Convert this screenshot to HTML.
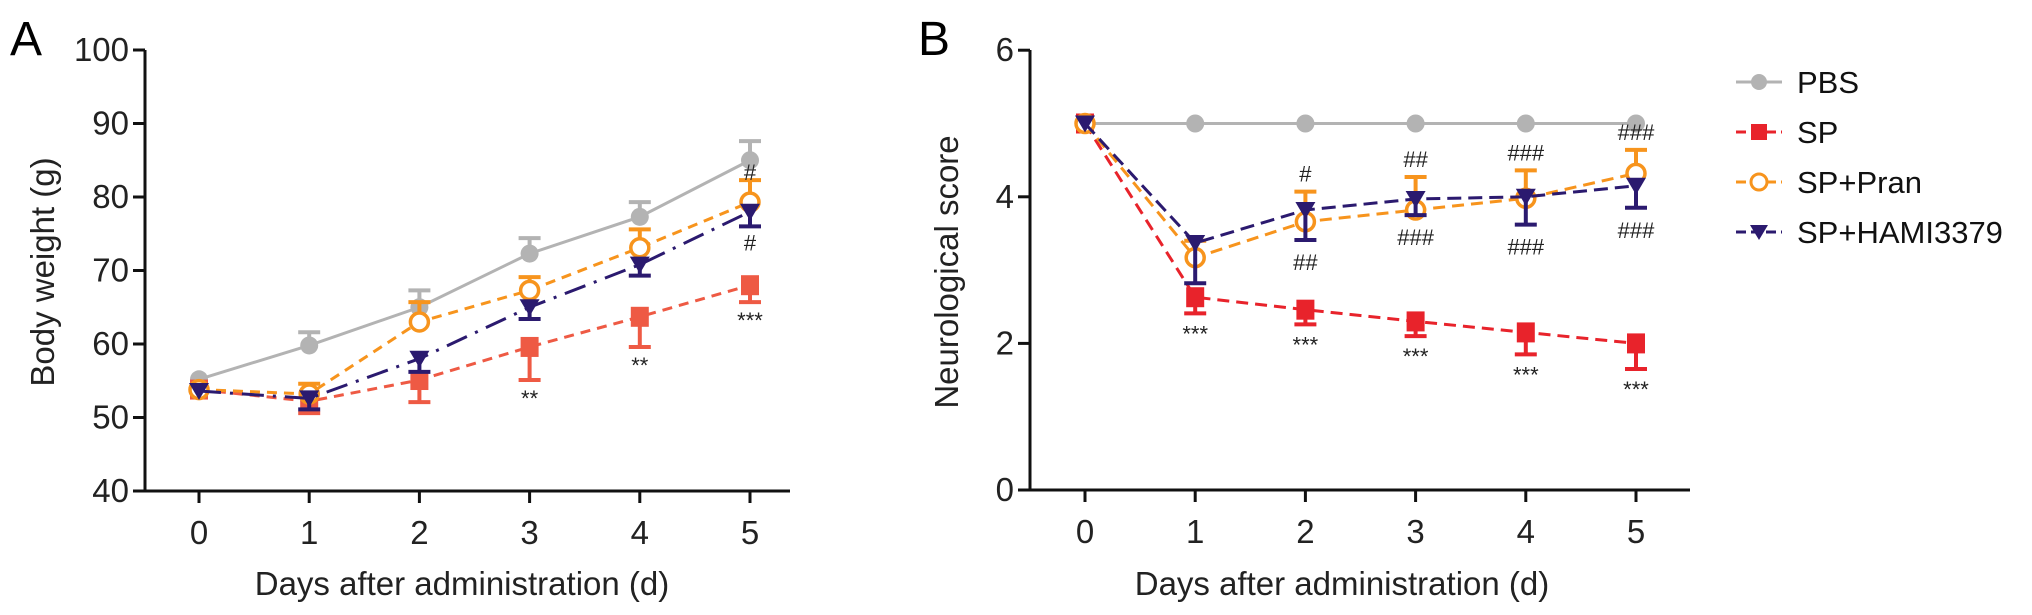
<!DOCTYPE html>
<html><head><meta charset="utf-8"><style>
html,body{margin:0;padding:0;background:#fff}
svg{display:block;font-family:"Liberation Sans",Arial,sans-serif}
</style></head><body>
<svg id="fig" width="2032" height="615" viewBox="0 0 2032 615">
<text x="10" y="55" font-size="48">A</text>
<text x="918" y="55" font-size="48">B</text>
<g id="ga"></g>
<g id="gb"></g>
<g id="legend"></g>
</svg>
<script>
const days = [0,1,2,3,4,5];
// Chart A: body weight
const aTicks = [40,50,60,70,80,90,100];
const aPBS = [55.2,59.8,65,72.3,77.3,85];
const aPBSerr = [0,1.8,2.3,2.1,2.0,2.6];
const aSP = [53.8,52.2,55.1,59.6,63.7,68];
const aSPerr = [0,1.6,3.0,4.5,4.1,2.3];
const aPran = [53.8,53.2,63,67.3,73.1,79.3];
const aPranErr = [0,1.4,2.7,1.8,2.5,3.0];
const aHami = [53.6,52.6,58,65,70.8,78];
const aHamiErr = [0,1.5,1.8,1.6,1.5,2.0];
// Chart B: neurological score
const bTicks = [0,2,4,6];
const bPBS = [5,5,5,5,5,5];
const bSP = [5,2.63,2.46,2.3,2.15,2.0];
const bSPerr = [0,0.22,0.2,0.2,0.3,0.35];
const bPran = [5,3.17,3.66,3.82,3.98,4.32];
const bPranErr = [0,0.23,0.41,0.45,0.38,0.32];
const bHami = [5,3.37,3.82,3.97,4.0,4.15];
const bHamiErr = [0,0.55,0.41,0.22,0.38,0.3];
const aStars = ["","","","**","**","***"];
const aHashUp = ["","","","","","#"];
const aHashDn = ["","","","","","#"];
const bStars = ["","***","***","***","***","***"];
const bHashUp = ["","","#","##","###","###"];
const bHashDn = ["","","##","###","###","###"];

const NS="http://www.w3.org/2000/svg";
function mk(parent,tag,attrs,name,txt){
  const e=document.createElementNS(NS,tag);
  for(const k in attrs)e.setAttribute(k,attrs[k]);
  
  
  if(txt!==undefined)e.textContent=txt;
  parent.appendChild(e);return e;
}
const C={pbs:"#b3b3b3",spA:"#ee5a44",spB:"#e8232b",pran:"#f7941d",hami:"#2b1a6f"};

function axes(g,o){
  mk(g,"line",{x1:o.ax,y1:o.yTop,x2:o.ax,y2:o.yBot,stroke:"#111","stroke-width":3},"y-axis-line");
  mk(g,"line",{x1:o.ax-1.5,y1:o.yBot,x2:o.xEnd,y2:o.yBot,stroke:"#111","stroke-width":3},"x-axis-line");
  o.ticks.forEach(t=>{const y=o.y(t);
    mk(g,"line",{x1:o.ax-12,y1:y,x2:o.ax,y2:y,stroke:"#111","stroke-width":3},"y-tick");
    mk(g,"text",{x:o.ax-16,y:y+11,"font-size":33,"text-anchor":"end",fill:"#222"},"y-tick-label",String(t));
  });
  days.forEach(d=>{const x=o.x(d);
    mk(g,"line",{x1:x,y1:o.yBot,x2:x,y2:o.yBot+12,stroke:"#111","stroke-width":3},"x-tick");
    mk(g,"text",{x:x,y:o.yBot+53,"font-size":33,"text-anchor":"middle",fill:"#222"},"x-tick-label",String(d));
  });
  mk(g,"text",{x:o.titleX,y:595,"font-size":33,"text-anchor":"middle",fill:"#222"},"x-axis-title","Days after administration (d)");
  mk(g,"text",{x:0,y:0,"font-size":33,"text-anchor":"middle",fill:"#222",transform:`translate(${o.ytx},${o.yty}) rotate(-90)`},"y-axis-title",o.ytitle);
}
function series(g,x,y,vals,err,dir,col,dash,marker,name){
  const pts=vals.map((v,i)=>x(days[i])+","+y(v)).join(" ");
  const a={points:pts,fill:"none",stroke:col,"stroke-width":3};
  if(dash)a["stroke-dasharray"]=dash;
  mk(g,"polyline",a,name+"-line");
  vals.forEach((v,i)=>{
    const cx=x(days[i]),cy=y(v);
    if(err && err[i]>0){
      const ey=y(v+dir*err[i]);
      mk(g,"line",{x1:cx,y1:cy,x2:cx,y2:ey,stroke:col,"stroke-width":4},name+"-error-bar");
      mk(g,"line",{x1:cx-11,y1:ey,x2:cx+11,y2:ey,stroke:col,"stroke-width":4},name+"-error-cap");
    }
    if(marker==="circle")mk(g,"circle",{cx,cy,r:9,fill:col},name+"-point");
    else if(marker==="square")mk(g,"rect",{x:cx-9,y:cy-10,width:18,height:20,fill:col},name+"-point");
    else if(marker==="open")mk(g,"circle",{cx,cy,r:9,fill:"#fff",stroke:col,"stroke-width":3.5},name+"-point");
    else mk(g,"polygon",{points:`${cx-10},${cy-8} ${cx+10},${cy-8} ${cx},${cy+9}`,fill:col},name+"-point");
  });
}
function ann(g,x,y,labels,vals,off,name){
  labels.forEach((s,i)=>{if(!s)return;
    mk(g,"text",{x:x(days[i]),y:y(vals[i])+off,"font-size":22,"text-anchor":"middle",fill:"#222"},name,s);});
}

// Chart A
{
const g=document.getElementById('ga');
const x=d=>199+d*110.2, y=v=>491-(v-40)*7.35;
axes(g,{ax:145,yTop:50,yBot:491,xEnd:790,ticks:aTicks,x,y,titleX:462,ytx:54,yty:272,ytitle:"Body weight (g)"});
series(g,x,y,aPBS,aPBSerr,1,C.pbs,null,"circle","pbs");
series(g,x,y,aSP,aSPerr,-1,C.spA,"10,7","square","sp");
series(g,x,y,aPran,aPranErr,1,C.pran,"10,7","open","sp-pran");
series(g,x,y,aHami,aHamiErr,-1,C.hami,"22,9,3,9","tri","sp-hami3379");
ann(g,x,y,aStars,aSP.map((v,i)=>v-aSPerr[i]),26,"significance-stars");
ann(g,x,y,aHashUp,aPran,-22,"hash-annotation");
ann(g,x,y,aHashDn,aHami.map((v,i)=>v-aHamiErr[i]),24,"hash-annotation");
}
// Chart B
{
const g=document.getElementById('gb');
const x=d=>1085+d*110.2, y=v=>490-v*73.3;
axes(g,{ax:1030,yTop:50,yBot:490,xEnd:1690,ticks:bTicks,x,y,titleX:1342,ytx:958,yty:272,ytitle:"Neurological score"});
series(g,x,y,bPBS,null,1,C.pbs,null,"circle","pbs");
series(g,x,y,bSP,bSPerr,-1,C.spB,"12,7","square","sp");
series(g,x,y,bPran,bPranErr,1,C.pran,"12,7","open","sp-pran");
series(g,x,y,bHami,bHamiErr,-1,C.hami,"14,7","tri","sp-hami3379");
ann(g,x,y,bStars,bSP.map((v,i)=>v-bSPerr[i]),28,"significance-stars");
ann(g,x,y,bHashUp,bPran.map((v,i)=>v+bPranErr[i]),-10,"hash-annotation");
ann(g,x,y,bHashDn,bHami.map((v,i)=>v-bHamiErr[i]),30,"hash-annotation");
}
// Legend
{
const g=document.getElementById('legend');
const items=[["PBS",C.pbs,"circle"],["SP",C.spB,"square"],["SP+Pran",C.pran,"open"],["SP+HAMI3379",C.hami,"tri"]];
items.forEach((it,i)=>{
  const y=82+i*50, cx=1759;
  mk(g,"line",{x1:1736,y1:y,x2:1782,y2:y,stroke:it[1],"stroke-width":3,"stroke-dasharray":i?"10,5":""},"legend-line");
  if(it[2]==="circle")mk(g,"circle",{cx,cy:y,r:8,fill:it[1]},"legend-marker");
  else if(it[2]==="square")mk(g,"rect",{x:cx-8,y:y-8,width:16,height:16,fill:it[1]},"legend-marker");
  else if(it[2]==="open")mk(g,"circle",{cx,cy:y,r:8,fill:"#fff",stroke:it[1],"stroke-width":3},"legend-marker");
  else mk(g,"polygon",{points:`${cx-9},${y-7} ${cx+9},${y-7} ${cx},${y+8}`,fill:it[1]},"legend-marker");
  mk(g,"text",{x:1797,y:y+11,"font-size":31,fill:"#111"},"legend-entry",it[0]);
});
}
</script>
</body></html>
